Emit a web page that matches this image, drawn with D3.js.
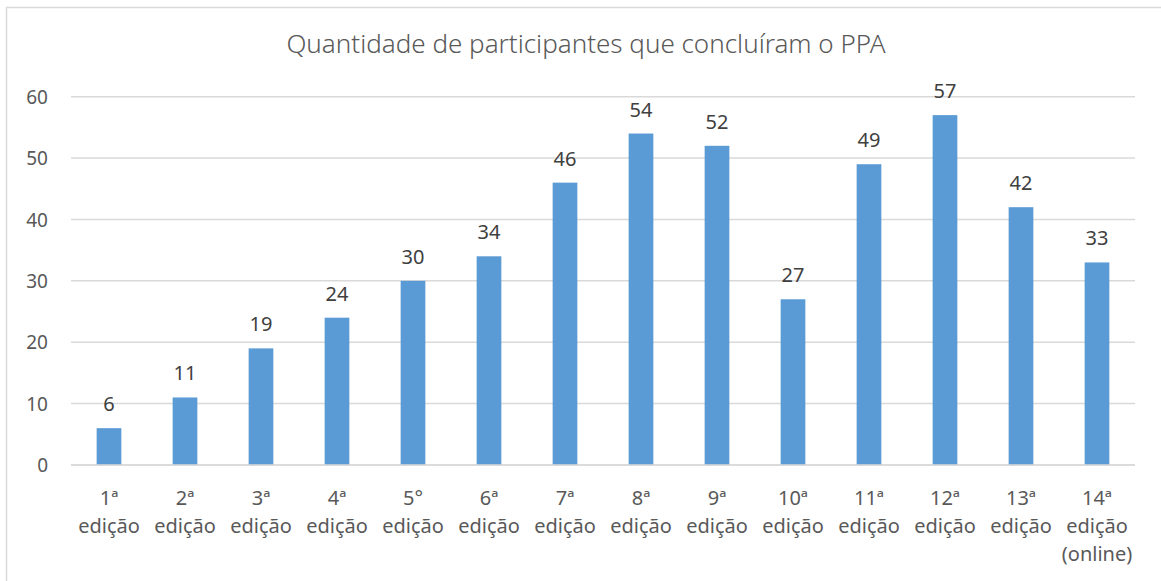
<!DOCTYPE html>
<html>
<head>
<meta charset="utf-8">
<script src="https://cdn.jsdelivr.net/npm/d3@7"></script>
<style>
  html, body { margin: 0; padding: 0; background: #fff; }
  svg { display: block; }
  text { font-family: "Noto Sans", "Open Sans", sans-serif; }
</style>
</head>
<body>
<svg id="chart" width="1161" height="581"></svg>
<script>
const title = "Quantidade de participantes que concluíram o PPA";
const categories = [
  ["1ª", "edição"], ["2ª", "edição"], ["3ª", "edição"], ["4ª", "edição"],
  ["5°", "edição"], ["6ª", "edição"], ["7ª", "edição"], ["8ª", "edição"],
  ["9ª", "edição"], ["10ª", "edição"], ["11ª", "edição"], ["12ª", "edição"],
  ["13ª", "edição"], ["14ª", "edição", "(online)"]
];
const values = [6, 11, 19, 24, 30, 34, 46, 54, 52, 27, 49, 57, 42, 33];
const yTicks = [0, 10, 20, 30, 40, 50, 60];

const svg = d3.select("#chart");
const margin = { left: 71, right: 1161 - 1135, top: 96.7, bottom: 581 - 465 };
const W = 1161, H = 581;

// chart border
svg.append("rect")
  .attr("x", 6.5).attr("y", 7.5)
  .attr("width", 1300).attr("height", 700)
  .attr("fill", "none").attr("stroke", "#d9d9d9").attr("stroke-width", 1.5);

const idx = categories.map((d, i) => i);
const x = d3.scaleBand().domain(idx).range([margin.left, W - margin.right]).paddingInner(0.675).paddingOuter(0.3375);
const y = d3.scaleLinear().domain([0, 60]).range([H - margin.bottom, margin.top]);

// gridlines
svg.append("g").selectAll("line").data(yTicks).join("line")
  .attr("x1", margin.left).attr("x2", W - margin.right)
  .attr("y1", d => y(d)).attr("y2", d => y(d))
  .attr("stroke", "#d9d9d9").attr("stroke-width", 1.5);

// y axis labels
const yAxis = d3.axisLeft(y).tickValues(yTicks).tickSize(0).tickPadding(0);
const gy = svg.append("g").attr("transform", `translate(48,0)`).call(yAxis);
gy.select(".domain").remove();
gy.selectAll("text").attr("fill", "#595959").attr("font-size", 19)
  .attr("font-family", '"Noto Sans", sans-serif').attr("dy", "0.35em");

// bars
svg.append("g").selectAll("rect").data(values).join("rect")
  .attr("x", (d, i) => x(i)).attr("width", x.bandwidth())
  .attr("y", d => y(d)).attr("height", d => y(0) - y(d))
  .attr("fill", "#5b9bd5");

// baseline redrawn on top
svg.append("line").attr("x1", margin.left).attr("x2", W - margin.right)
  .attr("y1", y(0)).attr("y2", y(0)).attr("stroke", "#d9d9d9").attr("stroke-width", 1.5);

// data labels
svg.append("g").selectAll("text").data(values).join("text")
  .attr("x", (d, i) => x(i) + x.bandwidth() / 2)
  .attr("y", d => y(d) - 17)
  .attr("text-anchor", "middle")
  .attr("font-size", 20).attr("fill", "#404040")
  .text(d => d);

// category labels
const gx = svg.append("g");
categories.forEach((lines, i) => {
  const t = gx.append("text")
    .attr("x", x(i) + x.bandwidth() / 2)
    .attr("y", 505)
    .attr("text-anchor", "middle")
    .attr("font-size", 20).attr("fill", "#595959");
  lines.forEach((ln, j) => {
    t.append("tspan").attr("x", x(i) + x.bandwidth() / 2)
      .attr("y", 505 + j * 28).text(ln);
  });
});

// title
svg.append("text")
  .attr("x", 586).attr("y", 53)
  .attr("text-anchor", "middle")
  .attr("font-size", 26).attr("fill", "#595959")
  .attr("font-weight", 300)
  .text(title);
</script>
</body>
</html>
